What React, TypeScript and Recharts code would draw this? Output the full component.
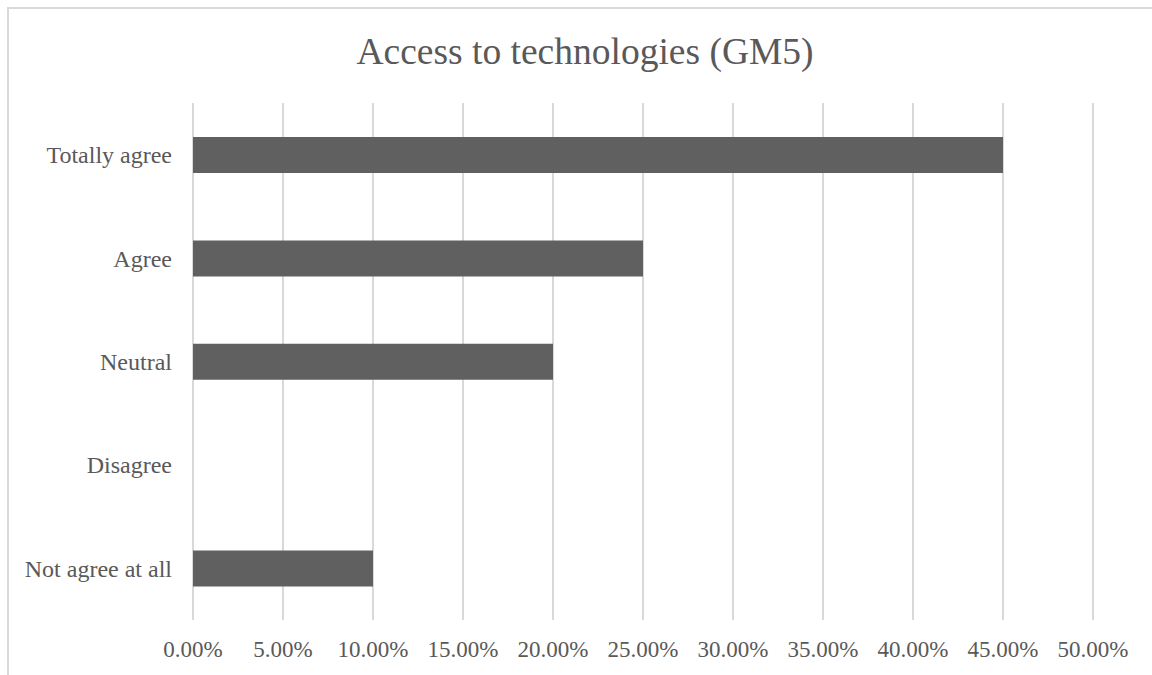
import React from "react";
import { BarChart, Bar, XAxis, YAxis, CartesianGrid } from "recharts";

const categories = ["Totally agree", "Agree", "Neutral", "Disagree", "Not agree at all"];
const shares = [0.45, 0.25, 0.2, 0, 0.1];
const xTicks = [0, 0.05, 0.1, 0.15, 0.2, 0.25, 0.3, 0.35, 0.4, 0.45, 0.5];

const data = categories.map((c, i) => ({ name: c, value: shares[i] }));

const font = "'Liberation Serif', 'Times New Roman', serif";
const grey = "#595959";

export default function App() {
  return (
    <>
      <style>{`body{margin:0;overflow:hidden}`}</style>
      <div
        style={{
          position: "absolute",
          left: 7,
          top: 7,
          width: 1145,
          height: 668,
          borderLeft: "2px solid #d9d9d9",
          borderTop: "2px solid #d9d9d9",
          boxSizing: "border-box",
          fontFamily: font,
        }}
      >
        <div
          style={{
            position: "absolute",
            left: 9,
            right: 0,
            top: 24,
            lineHeight: 1,
            textAlign: "center",
            fontSize: 37.5,
            color: grey,
          }}
        >
          Access to technologies (GM5)
        </div>
        <BarChart
          width={1143}
          height={666}
          data={data}
          layout="vertical"
          margin={{ top: 94, right: 59, left: 0, bottom: 15 }}
          barCategoryGap={0}
        >
          <CartesianGrid horizontal={false} stroke="#d9d9d9" strokeWidth={2} />
          <XAxis
            type="number"
            domain={[0, 0.5]}
            ticks={xTicks}
            tickFormatter={(v: number) => (v * 100).toFixed(2) + "%"}
            axisLine={false}
            tickLine={false}
            tickSize={0}
            tickMargin={21}
            height={40}
            interval={0}
            tick={{ fill: grey, fontSize: 23, fontFamily: font }}
          />
          <YAxis
            type="category"
            dataKey="name"
            width={184}
            axisLine={false}
            tickLine={false}
            tickSize={0}
            tickMargin={21}
            tick={{ fill: grey, fontSize: 24, fontFamily: font }}
          />
          <Bar dataKey="value" fill="#606060" barSize={36} isAnimationActive={false} />
        </BarChart>
      </div>
    </>
  );
}
